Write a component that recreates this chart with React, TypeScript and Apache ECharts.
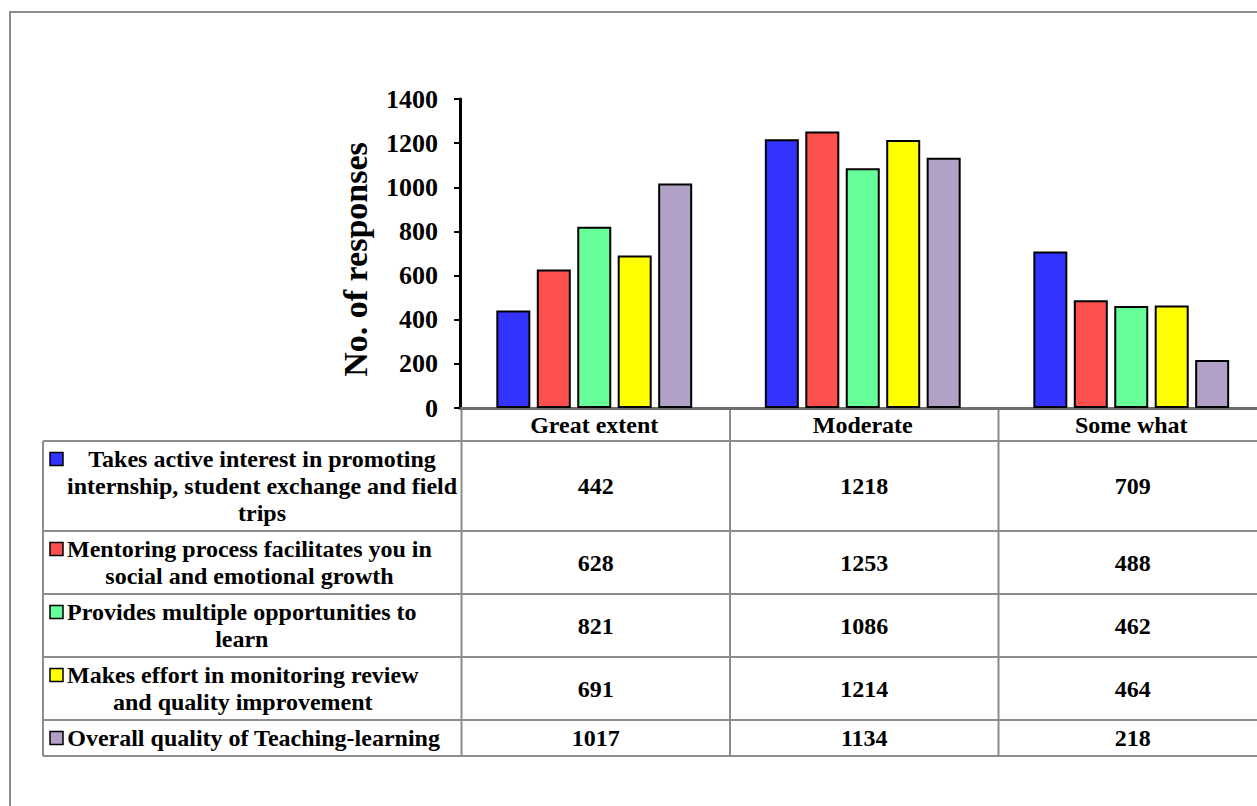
import React, { useEffect, useRef } from "react";
import * as echarts from "echarts";

// ---------- data ----------
const CATEGORIES = ["Great extent", "Moderate", "Some what"];
const SERIES_LINES = [
  ["Takes active interest in promoting", "internship, student exchange and field", "trips"],
  ["Mentoring process facilitates you in", "social and emotional growth"],
  ["Provides multiple opportunities to", "learn"],
  ["Makes effort in monitoring review", "and quality improvement"],
  ["Overall quality of Teaching-learning"],
];
const TAKES_ACTIVE_INTEREST = [442, 1218, 709];
const MENTORING_PROCESS = [628, 1253, 488];
const MULTIPLE_OPPORTUNITIES = [821, 1086, 462];
const MONITORING_REVIEW = [691, 1214, 464];
const OVERALL_QUALITY = [1017, 1134, 218];
const SERIES_VALUES = [
  TAKES_ACTIVE_INTEREST,
  MENTORING_PROCESS,
  MULTIPLE_OPPORTUNITIES,
  MONITORING_REVIEW,
  OVERALL_QUALITY,
];
const COLORS = ["#3333FF", "#FF5050", "#66FF99", "#FFFF00", "#B2A1C7"];
const Y_MIN = 0;
const Y_MAX = 1400;
const Y_INTERVAL = 200;
const Y_NAME = "No. of responses";

// ---------- layout ----------
const W = 1280;
const H = 806;
const GRID_LEFT = 460;
const GRID_TOP = 99;
const AXIS_Y = 408;
const GRID_RIGHT_X = 1265.5;
const TABLE_LEFT = 43;
const HEADER_BOTTOM = 441;
const LINE_H = 27;
const ROW_PAD = 9;
const KEY_X = 50;
const KEY_SIZE = 13;
const TEXT_LEFT = 67;
const FONT = '"Liberation Serif", "Times New Roman", serif';
const GRID_COLOR = "#8c8c8c";

function measure(text: string): number {
  const c = document.createElement("canvas").getContext("2d");
  if (!c) return text.length * 12;
  c.font = `bold 24px ${FONT}`;
  return c.measureText(text).width;
}

function buildGraphic() {
  const els: any[] = [];
  // outer frame
  els.push({
    type: "rect",
    shape: { x: 10, y: 12, width: 1500, height: 1000 },
    style: { fill: "none", stroke: GRID_COLOR, lineWidth: 2 },
    silent: true,
  });
  const catW = (GRID_RIGHT_X - GRID_LEFT) / CATEGORIES.length;
  // rows
  let y = HEADER_BOTTOM;
  const rowTops: number[] = [];
  SERIES_LINES.forEach((lines) => {
    rowTops.push(y);
    y += lines.length * LINE_H + ROW_PAD;
  });
  const tableBottom = y;
  // horizontal lines
  [HEADER_BOTTOM, ...rowTops.slice(1), tableBottom].forEach((ly) => {
    els.push({
      type: "line",
      shape: { x1: TABLE_LEFT, y1: ly, x2: W + 20, y2: ly },
      style: { stroke: GRID_COLOR, lineWidth: 2 },
      silent: true,
    });
  });
  // left border
  els.push({
    type: "line",
    shape: { x1: TABLE_LEFT, y1: HEADER_BOTTOM, x2: TABLE_LEFT, y2: tableBottom },
    style: { stroke: GRID_COLOR, lineWidth: 2 },
    silent: true,
  });
  // vertical lines
  for (let i = 0; i <= CATEGORIES.length; i++) {
    const x = GRID_LEFT + 1.5 + i * catW;
    els.push({
      type: "line",
      shape: { x1: x, y1: AXIS_Y, x2: x, y2: tableBottom },
      style: { stroke: GRID_COLOR, lineWidth: 2 },
      silent: true,
    });
  }
  // rows content
  SERIES_LINES.forEach((lines, r) => {
    const top = rowTops[r];
    const h = lines.length * LINE_H + ROW_PAD;
    els.push({
      type: "rect",
      shape: { x: KEY_X, y: top + ROW_PAD / 2 + LINE_H / 2 - KEY_SIZE / 2, width: KEY_SIZE, height: KEY_SIZE },
      style: { fill: COLORS[r], stroke: "#000", lineWidth: 1.5 },
      silent: true,
    });
    const blockW = Math.max(...lines.map(measure));
    lines.forEach((ln, k) => {
      els.push({
        type: "text",
        x: TEXT_LEFT + blockW / 2,
        y: top + ROW_PAD / 2 + LINE_H / 2 + k * LINE_H,
        style: {
          text: ln,
          font: `bold 24px ${FONT}`,
          fill: "#000",
          align: "center",
          verticalAlign: "middle",
        },
        silent: true,
      });
    });
    SERIES_VALUES[r].forEach((v, c) => {
      els.push({
        type: "text",
        x: GRID_LEFT + 1.5 + (c + 0.5) * catW,
        y: top + h / 2,
        style: {
          text: String(v),
          font: `bold 24px ${FONT}`,
          fill: "#000",
          align: "center",
          verticalAlign: "middle",
        },
        silent: true,
      });
    });
  });
  return els;
}

export default function App() {
  const ref = useRef<HTMLDivElement>(null);
  useEffect(() => {
    if (!ref.current) return;
    const chart = echarts.init(ref.current, null, { renderer: "svg" });
    chart.setOption({
      animation: false,
      backgroundColor: "#fff",
      grid: {
        left: GRID_LEFT,
        top: GRID_TOP,
        right: W - GRID_RIGHT_X,
        bottom: H - AXIS_Y,
        containLabel: false,
      },
      xAxis: {
        type: "category",
        data: CATEGORIES,
        axisLine: { show: true, lineStyle: { color: "#6e6e6e", width: 3 } },
        axisTick: { show: false },
        axisLabel: {
          color: "#000",
          fontFamily: FONT,
          fontWeight: "bold",
          fontSize: 24,
          margin: 5,
        },
        splitLine: { show: false },
      },
      yAxis: {
        type: "value",
        min: Y_MIN,
        max: Y_MAX,
        interval: Y_INTERVAL,
        name: Y_NAME,
        nameLocation: "middle",
        nameGap: 88,
        nameTextStyle: {
          color: "#000",
          fontFamily: FONT,
          fontWeight: "bold",
          fontSize: 34,
          padding: [0, 12, 0, 0],
        },
        axisLine: { show: true, lineStyle: { color: "#000", width: 3 } },
        axisTick: { show: true, inside: false, length: 6, lineStyle: { color: "#000", width: 2 } },
        axisLabel: {
          color: "#000",
          fontFamily: FONT,
          fontWeight: "bold",
          fontSize: 26,
          margin: 22,
          formatter: (v: number) => String(v),
        },
        splitLine: { show: false },
      },
      series: SERIES_VALUES.map((vals, i) => ({
        type: "bar",
        name: SERIES_LINES[i].join(" "),
        data: vals,
        barWidth: 34,
        barGap: "19%",
        itemStyle: { color: COLORS[i], borderColor: "#000", borderWidth: 2 },
      })),
      graphic: buildGraphic(),
    });
    return () => chart.dispose();
  }, []);
  return (
    <div
      style={{
        position: "fixed",
        left: 0,
        top: 0,
        width: 1257,
        height: 806,
        overflow: "hidden",
        background: "#fff",
      }}
    >
      <div ref={ref} style={{ width: W, height: H }} />
    </div>
  );
}
